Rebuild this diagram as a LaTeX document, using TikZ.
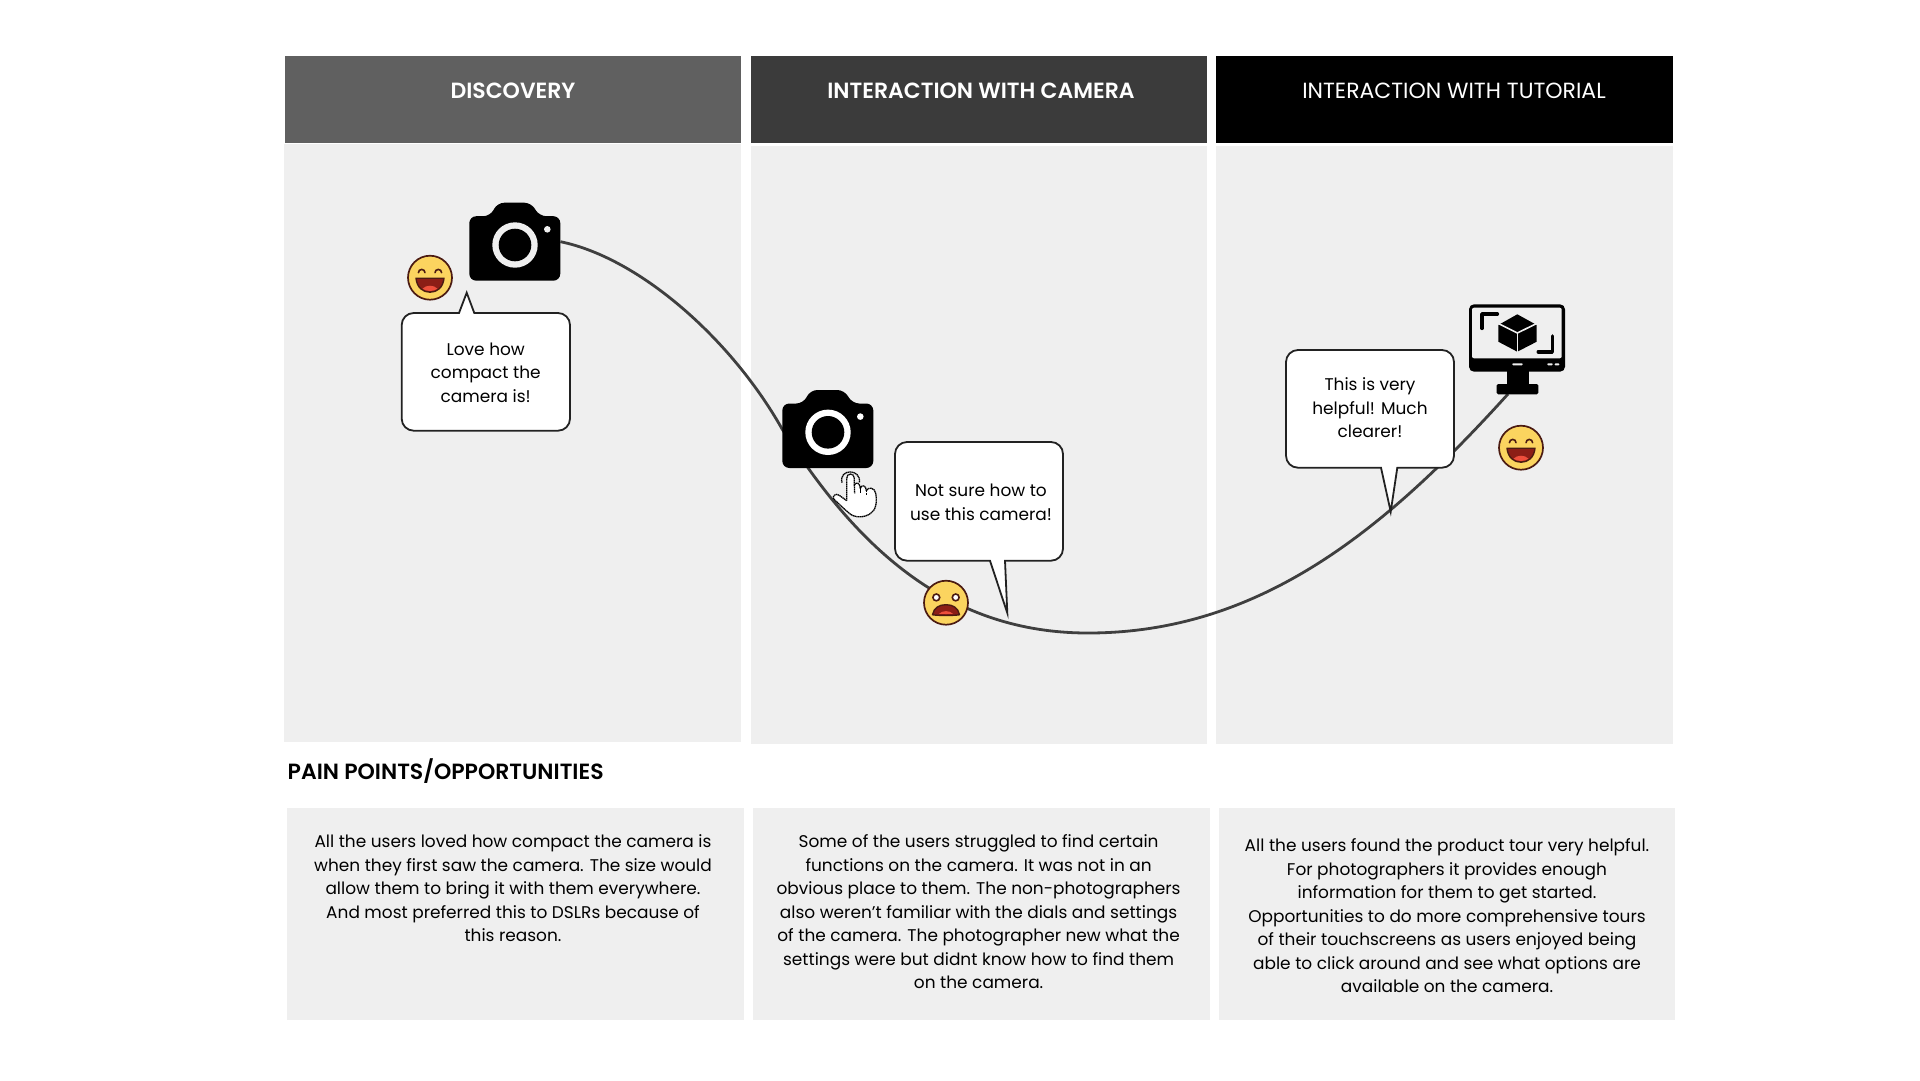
\documentclass[tikz,border=0pt]{standalone}
\usepackage{fontspec}
\setmainfont{Poppins}
\newfontfamily\popmed{Poppins SemiBold}
\usetikzlibrary{backgrounds}
\definecolor{panelgrey}{HTML}{EFEFEF}
\definecolor{headA}{HTML}{606060}
\definecolor{headB}{HTML}{3B3B3B}
\definecolor{curvegrey}{HTML}{3F3F3F}
\definecolor{bubbleline}{HTML}{222222}
\definecolor{emoface}{HTML}{FBD45F}
\definecolor{emoline}{HTML}{4B1B12}
\definecolor{emomouth}{HTML}{8C1E16}
\definecolor{emotongue}{HTML}{EE4F3C}
\tikzset{
  x=1pt,y=-1pt,
  panel/.style={fill=panelgrey,draw=none},
  headtext/.style={text=white,font=\popmed\fontsize{22}{26}\selectfont,inner sep=0pt},
  headtextreg/.style={text=white,font=\fontsize{21.95}{26}\selectfont,inner sep=0pt},
  bodytext/.style={align=center,text=black,font=\fontsize{16.95}{23.55}\selectfont,inner sep=0pt},
  bubbleshape/.style={draw=bubbleline,fill=white,line width=1.8pt,line join=miter},
  curveline/.style={draw=curvegrey,line width=2.8pt},
  iconbox/.style={inner sep=0pt,minimum width=0pt,minimum height=0pt},
}
% camera: name, x (left), y (hump top), ring colour
\newcommand{\cameraicon}[4]{%
  \begin{scope}[shift={(#2,#3)}]
    \fill[black,rounded corners=7pt] (0,13.5) -- (21,13.5) -- (28,0) -- (62,0) -- (70,13.5) -- (91,13.5) -- (91,78) -- (0,78) -- cycle;
    \fill[#4] (45.7,42.3) circle (22.7);
    \fill[black] (45.7,42.3) circle (16.3);
    \fill[#4] (78,26.6) circle (3.3);
    \node[iconbox,minimum width=91pt,minimum height=78pt] (#1) at (45.5,39) {};
  \end{scope}}
\newcommand{\happyface}[3]{%
  \begin{scope}[shift={(#2,#3)}]
    \node[iconbox,circle,minimum size=44pt,fill=emoface,draw=emoline,line width=1.7pt] (#1) at (0,0) {};
    \draw[emoline,line width=1.6pt,line cap=round] (-11.6,-5) arc (180:360:3.3);
    \draw[emoline,line width=1.6pt,line cap=round] (5,-5) arc (180:360:3.3);
    \draw[emoline,line width=1.4pt,fill=emomouth,line join=round] (-14,0.5) -- (14,0.5) .. controls (13,10) and (7,14.5) .. (0,14.5) .. controls (-7,14.5) and (-13,10) .. (-14,0.5) -- cycle;
    \fill[emotongue] (-7.5,11) .. controls (-4,7) and (4,7) .. (7.5,11) .. controls (4,14) and (-4,14) .. (-7.5,11) -- cycle;
  \end{scope}}
\newcommand{\upsetface}[3]{%
  \begin{scope}[shift={(#2,#3)}]
    \node[iconbox,circle,minimum size=44pt,fill=emoface,draw=emoline,line width=1.7pt] (#1) at (0,0) {};
    \draw[emoline,line width=1.6pt,fill=white] (-9.7,-5.3) circle (3.4);
    \draw[emoline,line width=1.6pt,fill=white] (9.7,-5.3) circle (3.4);
    \draw[emoline,line width=1.4pt,fill=emomouth,line join=round] (-13.5,12) .. controls (-12,5) and (-7,2) .. (0,2) .. controls (7,2) and (12,5) .. (13.5,12) .. controls (8,13) and (-8,13) .. (-13.5,12) -- cycle;
    \fill[emotongue] (-7,11.2) .. controls (-4,7.5) and (4,7.5) .. (7,11.2) -- cycle;
  \end{scope}}
\begin{document}
\begin{tikzpicture}
\useasboundingbox (0,0) rectangle (1920,1080);
\begin{pgfonlayer}{background}
\fill[white] (0,0) rectangle (1920,1080);
% panels
\fill[panel] (284,144.3) rectangle (740.5,742);
\fill[panel] (751,146) rectangle (1207,744);
\fill[panel] (1216,146) rectangle (1673,744);
\fill[headA] (285,56) rectangle (741,143);
\fill[headB] (751,56) rectangle (1207,143);
\fill[black] (1216,56) rectangle (1673,143);
\fill[panel] (287,808) rectangle (744,1019.5);
\fill[panel] (753,808) rectangle (1210,1019.5);
\fill[panel] (1219,808) rectangle (1675,1019.5);
\end{pgfonlayer}
% headers
\node[headtext] (hA) at (513,90.5) {DISCOVERY};
\node[headtext] (hB) at (981,90.5) {INTERACTION WITH CAMERA};
\node[headtextreg] (hC) at (1454,90.5) {INTERACTION WITH TUTORIAL};
\node[headtext,text=black,anchor=west] (pain) at (287.5,771) {PAIN POINTS/OPPORTUNITIES};
% body text
\node[bodytext] (tA) at (513,888.3) {All the users loved how compact the camera is\\when they first saw the camera. The size would\\allow them to bring it with them everywhere.\\And most preferred this to DSLRs because of\\this reason.};
\node[bodytext] (tB) at (978.6,911.7) {Some of the users struggled to find certain\\functions on the camera. It was not in an\\obvious place to them. The non-photographers\\also weren’t familiar with the dials and settings\\of the camera. The photographer new what the\\settings were but didnt know how to find them\\on the camera.};
\node[bodytext] (tC) at (1447,915.8) {All the users found the product tour very helpful.\\For photographers it provides enough\\information for them to get started.\\Opportunities to do more comprehensive tours\\of their touchscreens as users enjoyed being\\able to click around and see what options are\\available on the camera.};
% icons
\cameraicon{camA}{469.3}{202.7}{panelgrey}
\cameraicon{camB}{782.3}{390}{white}
% monitor
\node[iconbox,minimum width=96pt,minimum height=90pt] (monitor) at (1517,349.3) {};
\fill[black,rounded corners=5pt] (1469,304.3) rectangle (1565,371.7);
\fill[black] (1506.7,371) rectangle (1529,385);
\fill[black,rounded corners=1.5pt] (1496.7,384) rectangle (1538.3,394.3);
\fill[panelgrey,rounded corners=2pt] (1472,307.7) rectangle (1561.7,358.3);
\fill[panelgrey,rounded corners=0.8pt] (1512.3,363.3) rectangle (1522.7,365.3);
\fill[panelgrey,rounded corners=0.8pt] (1547.3,363.3) rectangle (1552.7,365.3);
\fill[panelgrey,rounded corners=0.8pt] (1554.7,363.3) rectangle (1559.3,365.3);
\draw[black,line width=3.6pt,line cap=round,line join=round] (1482,328.3) -- (1482,314) -- (1497.3,314);
\draw[black,line width=3.6pt,line cap=round,line join=round] (1552.3,336) -- (1552.3,351.7) -- (1538.3,351.7);
\fill[black,line join=round] (1517.3,314.3) -- (1536.7,325) -- (1536.7,341.7) -- (1517.3,351.7) -- (1498.3,341.7) -- (1498.3,325) -- cycle;
\draw[panelgrey,line width=1.6pt] (1498.3,323.5) -- (1517.3,333) -- (1536.7,323.5);
\draw[panelgrey,line width=1.6pt] (1517.3,333) -- (1517.3,352);
\coordinate (monfoot) at (1508,394);
% hand
\begin{scope}[shift={(820,450)},x=0.3333pt,y=-0.3333pt]
  \draw[black,line width=1.3pt,dash pattern=on 1.4pt off 0.5pt,fill=white,line join=round]
    (80,152) -- (80,85) .. controls (80,68) and (103,68) .. (103,85) -- (103,105)
    .. controls (108,95) and (120,98) .. (121,115)
    .. controls (125,103) and (138,105) .. (139,122)
    .. controls (143,110) and (165,112) .. (167,130)
    .. controls (172,155) and (168,180) .. (152,190)
    .. controls (135,203) and (105,205) .. (88,190)
    .. controls (70,175) and (55,160) .. (41,147)
    .. controls (36,138) and (48,128) .. (58,136) -- cycle;
  \draw[black,line width=1.3pt,dash pattern=on 1.4pt off 0.5pt] (66,98) .. controls (55,55) and (125,55) .. (118,98);
  \draw[black,line width=1.3pt,dash pattern=on 1.4pt off 0.5pt] (103,105) -- (104,130);
  \draw[black,line width=1.3pt,dash pattern=on 1.4pt off 0.5pt] (121,115) -- (121,130);
  \draw[black,line width=1.3pt,dash pattern=on 1.4pt off 0.5pt] (139,122) -- (139,135);
  \node[iconbox] (hand) at (105,130) {};
\end{scope}
% bubbles
\draw[bubbleshape] (474.3,313) [rounded corners=12pt] -- (570,313) -- (570,430.7) -- (401.7,430.7) -- (401.7,313) [sharp corners] -- (459,313) -- (466.7,292.7) -- cycle;
\draw[bubbleshape] (1005,560.7) [rounded corners=12pt] -- (1063,560.7) -- (1063,442) -- (895,442) -- (895,560.7) [sharp corners] -- (990,560.7) -- (1007.3,613) -- cycle;
\draw[bubbleshape] (1397.3,467.7) [rounded corners=12pt] -- (1454,467.7) -- (1454,350) -- (1286,350) -- (1286,467.7) [sharp corners] -- (1381,467.7) -- (1390.7,511.7) -- cycle;
\node[bodytext] (bA) at (485.7,372.7) {Love how\\compact the\\camera is!};
\node[bodytext] (bB) at (981,502.3) {Not sure how to\\use this camera!};
\node[bodytext] (bC) at (1370,407.7) {This is very\\helpful! Much\\clearer!};
% faces
\happyface{emoA}{430}{277.7}
\upsetface{emoB}{946}{602.7}
\happyface{emoC}{1521}{447.7}
% journey curve, under the icons
\begin{pgfonlayer}{background}
\coordinate (low) at (1088,633);
\draw[curveline] (camA.east) .. controls (640,258) and (732,340) .. (camB.west)
  .. controls (858,550) and (950,633) .. (low)
  .. controls (1260,633) and (1385,530) .. (monfoot);
\end{pgfonlayer}
\end{tikzpicture}
\end{document}
